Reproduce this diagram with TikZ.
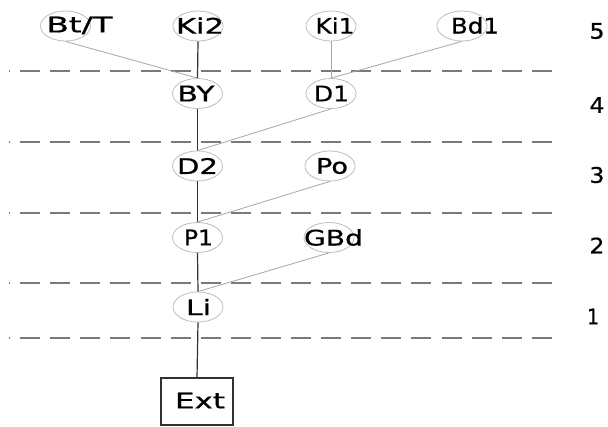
\documentclass[tikz,border=0pt]{standalone}
\usepackage{fontspec}
\setmainfont{DejaVu Sans}
\newfontfamily\lblfont{DejaVu Sans}[FakeBold=0.7]
\usetikzlibrary{shapes.geometric}
\newcommand\lbl[2]{\resizebox{#1}{\height}{#2}}
\definecolor{ellc}{HTML}{BDBDBD}
\definecolor{lightc}{HTML}{A6A6A6}
\definecolor{darkc}{HTML}{303030}
\definecolor{dashc}{HTML}{7A7A7A}
\tikzset{
  ell/.style={ellipse, draw=ellc, line width=0.8pt, minimum width=50pt, minimum height=30pt, inner sep=0pt},
  txt/.style={inner sep=0pt, font=\lblfont\fontsize{21.5}{23}\selectfont, text=black},
  lightline/.style={draw=lightc, line width=0.8pt},
  darkline/.style={draw=darkc, line width=1.2pt},
  levelline/.style={draw=dashc, line width=1.3pt, dash pattern=on 20pt off 10.1pt, dash phase=19pt},
  extbox/.style={draw=darkc, line width=1.1pt, minimum width=72pt, minimum height=47pt, inner sep=0pt}
}
\begin{document}
\begin{tikzpicture}[x=1pt,y=-1pt]
\useasboundingbox (0,0) rectangle (608,426);
% level separators
\foreach \yy/\nm in {71/la,142/lb,213/lc,283/ld,338/le}{
  \coordinate (\nm s) at (9,\yy);
  \coordinate (\nm e) at (560,\yy);
  \draw[levelline] (\nm s) -- (\nm e);
}
% ellipses
\node[ell] (BtT) at (65.5,26) {};
\node[ell] (Ki2) at (198,26) {};
\node[ell] (Ki1) at (331,26) {};
\node[ell] (Bd1) at (462,26) {};
\node[ell] (BY) at (197.5,93.5) {};
\node[ell] (D1) at (331,93.5) {};
\node[ell] (D2) at (197.5,166) {};
\node[ell] (Po) at (330,166) {};
\node[ell] (P1) at (197.5,237.5) {};
\node[ell] (GBd) at (329,237.5) {};
\node[ell] (Li) at (198,307) {};
\node[extbox] (Ext) at (197,401.5) {};
% texts
\node[txt] (tBtT) at (79.5,25.5) {\lbl{66pt}{Bt/T}};
\node[txt] (tKi2) at (200,25.5) {\lbl{48pt}{Ki2}};
\node[txt] (tKi1) at (335,25.5) {\lbl{39pt}{Ki1}};
\node[txt] (tBd1) at (475,25.5) {\lbl{48pt}{Bd1}};
\node[txt] (tBY) at (196,93.5) {\lbl{37pt}{BY}};
\node[txt] (tD1) at (331.5,93.5) {\lbl{35pt}{D1}};
\node[txt] (tD2) at (197.5,166) {\lbl{41pt}{D2}};
\node[txt] (tPo) at (332,166) {\lbl{32pt}{Po}};
\node[txt] (tP1) at (198.5,237.5) {\lbl{29pt}{P1}};
\node[txt] (tGBd) at (333.5,237.5) {\lbl{59pt}{GBd}};
\node[txt] (tLi) at (198.5,307) {\lbl{25pt}{Li}};
\node[txt] (tExt) at (200,400.5) {\lbl{50pt}{Ext}};
% level numbers
\node[txt] (n5) at (597,31) {\lbl{15pt}{5}};
\node[txt] (n4) at (597,105) {\lbl{15pt}{4}};
\node[txt] (n3) at (597,175) {\lbl{15pt}{3}};
\node[txt] (n2) at (597,245.5) {\lbl{15pt}{2}};
\node[txt] (n1) at (593,316.5) {\lbl{12pt}{1}};
% connectors
\draw[lightline] (BtT.south) -- (BY.north);
\draw[darkline] (Ki2.south) -- (BY.north);
\draw[lightline] (Ki1.south) -- (D1.north);
\draw[lightline] (Bd1.south) -- (D1.north);
\draw[darkline] (BY.south) -- (D2.north);
\draw[lightline] (D1.south) -- (D2.north);
\draw[darkline] (D2.south) -- (P1.north);
\draw[lightline] (Po.south) -- (P1.north);
\draw[darkline] (P1.south) -- (Li.north);
\draw[lightline] (GBd.south) -- (Li.north);
\draw[darkline] (Li.south) -- (Ext.north);
\end{tikzpicture}
\end{document}
